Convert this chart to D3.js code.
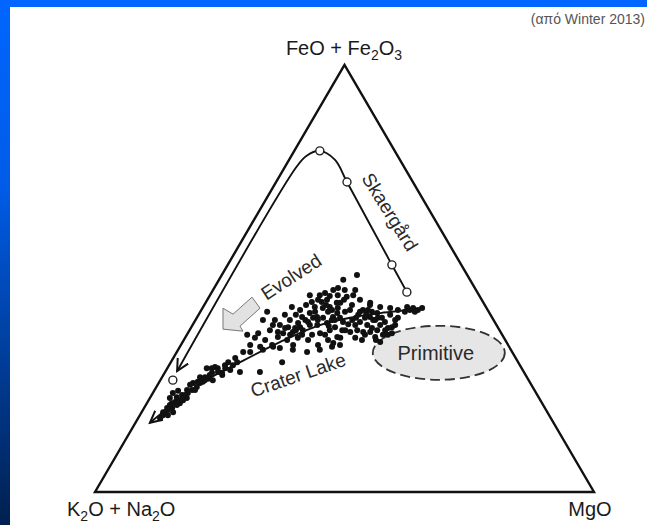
<!DOCTYPE html>
<html><head><meta charset="utf-8">
<script src="https://cdn.jsdelivr.net/npm/d3@7"></script>
<style>html,body{margin:0;padding:0;background:#fff;}svg{display:block;}</style>
</head><body>
<script>
// Ternary data: [FeO+Fe2O3 %, MgO %]; K2O+Na2O = 100 - F - M
const vertexLabels = {F: ["FeO + Fe", "2", "O", "3"], A: ["K", "2", "O + Na", "2", "O"], M: ["MgO"]};
const source = "(από Winter 2013)";

const craterLake = [
[29.0,7.9],[27.9,9.5],[28.1,10.6],[27.4,11.8],[28.6,12.8],[28.1,15.0],[26.9,7.6],[25.5,6.9],[25.8,7.7],[25.1,6.5],
[23.9,6.5],[22.7,6.1],[22.2,5.3],[23.2,4.0],[22.0,4.0],[21.1,5.5],[20.4,4.8],[19.7,4.6],[18.7,4.7],[19.7,5.6],
[21.5,6.9],[22.0,7.4],[23.9,7.5],[24.6,8.1],[25.8,8.7],[26.5,9.4],[20.8,6.6],[18.0,5.6],[18.0,4.6],[18.7,6.3],
[23.2,7.0],[26.9,8.6],[26.2,10.5],[20.4,6.2],[25.5,8.3],[23.7,4.8],[29.3,9.4],[29.0,11.6],[29.0,8.9],[27.9,11.5],
[29.7,12.8],[17.3,4.4],[28.1,19.0],[33.3,17.0],[34.0,18.7],[30.4,22.3],[33.3,23.0],[33.3,28.4],
[46.1,22.0],[46.6,22.8],[44.5,21.2],[43.3,22.4],[43.3,17.8],[42.2,13.4],[40.3,13.5],[40.3,15.9],[36.8,12.1],[40.3,18.9],
[39.6,20.9],[37.5,20.9],[37.2,19.1],[37.9,22.7],[41.9,22.1],[41.0,24.0],[40.8,25.3],[39.6,26.7],[37.2,26.5],[37.9,28.1],
[41.0,27.2],[44.3,26.3],[43.3,25.4],[35.6,24.9],[34.4,27.5],[34.4,22.5],[34.4,18.3],[34.0,16.1],[34.0,30.5],[36.1,22.6],
[35.6,20.7],[33.7,20.2],[32.8,26.1],
[50.8,27.1],[49.7,24.9],[47.3,24.1],[45.7,27.6],[46.1,28.7],[45.0,30.6],[44.3,27.0],[44.3,33.0],[42.6,32.4],[41.9,35.6],
[41.0,34.6],[41.5,32.0],[42.6,29.8],[41.9,27.6],[40.3,27.3],[39.8,29.8],[39.1,32.6],[39.1,35.0],[39.1,37.6],[38.4,39.5],
[36.8,39.3],[36.3,38.0],[37.5,35.0],[35.6,35.7],[35.1,39.6],[36.3,30.4],[34.9,30.3],[42.6,39.4],[43.3,40.9],[42.6,43.4],
[43.1,44.0],[42.2,43.0],[40.8,40.3],[38.6,40.2],[40.3,35.6],[37.5,32.4],[43.8,33.2],[43.3,35.5],[43.1,37.6],[43.1,42.2],
[37.2,40.9],[37.9,37.6],
[45.0,24.0],[43.1,24.1],[42.2,25.6],[38.6,28.8],[40.8,28.7],[42.2,29.0],[40.3,31.4],[39.8,33.2],[40.8,33.7],[42.6,33.4],
[40.3,36.0],[40.8,37.1],[37.9,39.2],[37.5,36.4],[37.9,33.6],[38.6,21.8],[40.3,22.0],[38.4,20.9],[38.6,19.4],[36.3,18.5],
[39.1,23.5],[42.2,23.0],[44.5,23.2],[45.9,24.1],[46.1,25.6],[47.3,26.4],[39.1,25.0],[36.8,27.7],[37.9,31.2],[36.1,34.1],
[34.4,31.9],[41.0,21.0],[39.1,17.5],[37.9,16.1],[36.1,14.0],[34.4,13.9],[32.8,13.3],[31.4,12.4],[30.4,11.5],[35.6,16.3],
[42.6,19.8],[41.5,17.3],[46.1,20.0],[40.3,40.0],[42.2,41.0],[42.6,41.8],
[43.8,24.4],[42.6,26.2],[40.3,27.9],[38.9,27.4],[43.1,27.1],[40.3,24.5],[40.8,23.3],[39.8,22.8],[37.9,21.3],[36.8,20.7],
[36.8,23.1],[38.4,18.9],[37.5,17.9],[42.2,32.0],[41.7,33.5],[42.2,34.4],[40.8,36.3],[39.8,38.2],[38.4,36.3],[36.8,35.7],
[40.8,31.9],[39.3,31.1],[37.9,30.6],[41.5,38.4],[39.1,40.6],[36.8,40.3],[35.6,38.5],[43.8,29.6],[45.0,27.4],[47.3,28.5],
[47.8,24.8],[45.0,22.2],[43.8,20.4],[41.5,19.5],[39.1,16.1],[37.2,14.1],[32.8,14.7],[30.4,13.3],[29.7,11.2],[29.0,10.1],
[27.4,9.3],[26.2,8.9],[23.9,8.1],[22.7,6.7],[21.5,5.9],[20.8,5.0],[19.2,5.0],[18.7,4.3],[36.1,31.1],[35.6,28.9],
[36.8,25.1]
];

// Crater Lake trend (right to left)
const craterTrend = [[42.9,44.3],[41.9,36.2],[40.8,30.7],[39.1,25.5],[35.1,19.5],[30.4,13.9],[25.3,8.4],[16.2,2.9]];
// Skaergard liquid samples
const skaerSamples = [[46.8,39.1],[53.2,32.9],[72.6,14.2],[79.9,5.1],[26.2,2.5]];
// Skaergard trend path
const skaerTrend = [[46.8,39.1],[53.2,32.9],[72.6,14.2],[77.8,9.2],[79.9,5.1],[78.7,3.0],[76.1,2.3],[28.3,2.3]];

// annotation anchors (ternary)
const evolvedArrowTip = [37.9,6.7];
const labels = [
  {text:"Evolved", at:[50.4,14.1], rot:-33, size:19},
  {text:"Crater Lake", at:[27.4,27.0], rot:-19, size:19},
  {text:"Skaergård", at:[65.6,26.3], rot:58, size:19},
];
const primitive = {text:"Primitive", at:[32.6,52.6]};

const W = 647, H = 525;
const svg = d3.select("body").append("svg").attr("width", W).attr("height", H);
const defs = svg.append("defs");
const g1 = defs.append("linearGradient").attr("id","leftband").attr("x1",0).attr("y1",0).attr("x2",0).attr("y2",1);
g1.append("stop").attr("offset","0%").attr("stop-color","#0066ff");
g1.append("stop").attr("offset","35%").attr("stop-color","#005ce8");
g1.append("stop").attr("offset","100%").attr("stop-color","#00204f");

svg.append("rect").attr("width",W).attr("height",H).attr("fill","#fff");
svg.append("rect").attr("x",0).attr("y",0).attr("width",10).attr("height",H).attr("fill","url(#leftband)");
svg.append("rect").attr("x",0).attr("y",0).attr("width",W).attr("height",7).attr("fill","#0066ff");

const xS = d3.scaleLinear().domain([0,100]).range([95,594]);
const yS = d3.scaleLinear().domain([0,100]).range([492,65]);
const P = d => [xS(d[1] + d[0]/2), yS(d[0])];

// markers
defs.append("marker").attr("id","vhead").attr("markerUnits","userSpaceOnUse")
  .attr("markerWidth",24).attr("markerHeight",24).attr("refX",12).attr("refY",12).attr("orient","auto")
  .append("path").attr("d","M0,6 L12,12 L0,18").attr("fill","none").attr("stroke","#111").attr("stroke-width",2);

// triangle
const tri = [[0,0],[100,0],[0,100]].map(P);
svg.append("path").attr("d", "M"+tri.map(p=>p.join(",")).join("L")+"Z")
  .attr("fill","none").attr("stroke","#111").attr("stroke-width",2.4).attr("stroke-linejoin","miter");

// primitive ellipse
const pc = P(primitive.at);
svg.append("ellipse").attr("cx",pc[0]).attr("cy",pc[1]).attr("rx",66).attr("ry",27)
  .attr("fill","#e6e6e6").attr("stroke","#333").attr("stroke-width",1.8).attr("stroke-dasharray","10,5");
svg.append("text").attr("x",pc[0]-3).attr("y",pc[1]+7).attr("text-anchor","middle")
  .attr("font-family","'Liberation Sans',Arial,sans-serif").attr("font-size",20).attr("fill","#2a2a2a").text(primitive.text);

const line = d3.line().x(d=>P(d)[0]).y(d=>P(d)[1]).curve(d3.curveCatmullRom.alpha(0.5));
svg.append("path").attr("d", line(skaerTrend)).attr("fill","none").attr("stroke","#111").attr("stroke-width",1.9).attr("marker-end","url(#vhead)");
svg.append("path").attr("d", line(craterTrend)).attr("fill","none").attr("stroke","#111").attr("stroke-width",1.9).attr("marker-end","url(#vhead)");

// evolved block arrow
const t = P(evolvedArrowTip);
const arrowShape = [[0,-22],[10,-16],[29,-33],[37,-22],[17,-4],[20,1],[0,-1]];
svg.append("path").attr("d","M"+arrowShape.map(o=>[t[0]+o[0],t[1]+o[1]].join(",")).join("L")+"Z")
  .attr("fill","#e2e2e2").attr("stroke","#777").attr("stroke-width",1);

// dots
svg.append("g").selectAll("circle").data(craterLake).join("circle")
  .attr("cx",d=>P(d)[0]).attr("cy",d=>P(d)[1]).attr("r",3).attr("fill","#111");

// skaergard samples
svg.append("g").selectAll("circle").data(skaerSamples).join("circle")
  .attr("cx",d=>P(d)[0]).attr("cy",d=>P(d)[1]).attr("r",4).attr("fill","#fff").attr("stroke","#222").attr("stroke-width",1.4);

// rotated labels
labels.forEach(l=>{
  const p = P(l.at);
  svg.append("text").attr("transform",`translate(${p[0]},${p[1]}) rotate(${l.rot})`)
    .attr("text-anchor","middle").attr("dy","0.35em")
    .attr("font-family","'Liberation Sans',Arial,sans-serif").attr("font-size",l.size).attr("fill","#2a2a2a").text(l.text);
});

// vertex labels
function subText(x, y, parts, anchor){
  const tx = svg.append("text").attr("x",x).attr("y",y).attr("text-anchor",anchor)
    .attr("font-family","'Liberation Sans',Arial,sans-serif").attr("font-size",20).attr("fill","#1a1a1a");
  parts.forEach((s,i)=>{
    const isSub = /^\d$/.test(s);
    tx.append("tspan").attr("font-size", isSub?14:20).attr("dy", isSub? 5 : (i>0 ? -5 : 0)).text(s);
  });
}
subText(344, 55, vertexLabels.F, "middle");
subText(67, 516, vertexLabels.A, "start");
subText(590, 516, vertexLabels.M, "middle");

svg.append("text").attr("x",645).attr("y",24).attr("text-anchor","end")
  .attr("font-family","'Liberation Sans',Arial,sans-serif").attr("font-size",14).attr("fill","#555").text(source);
</script>
</body></html>
